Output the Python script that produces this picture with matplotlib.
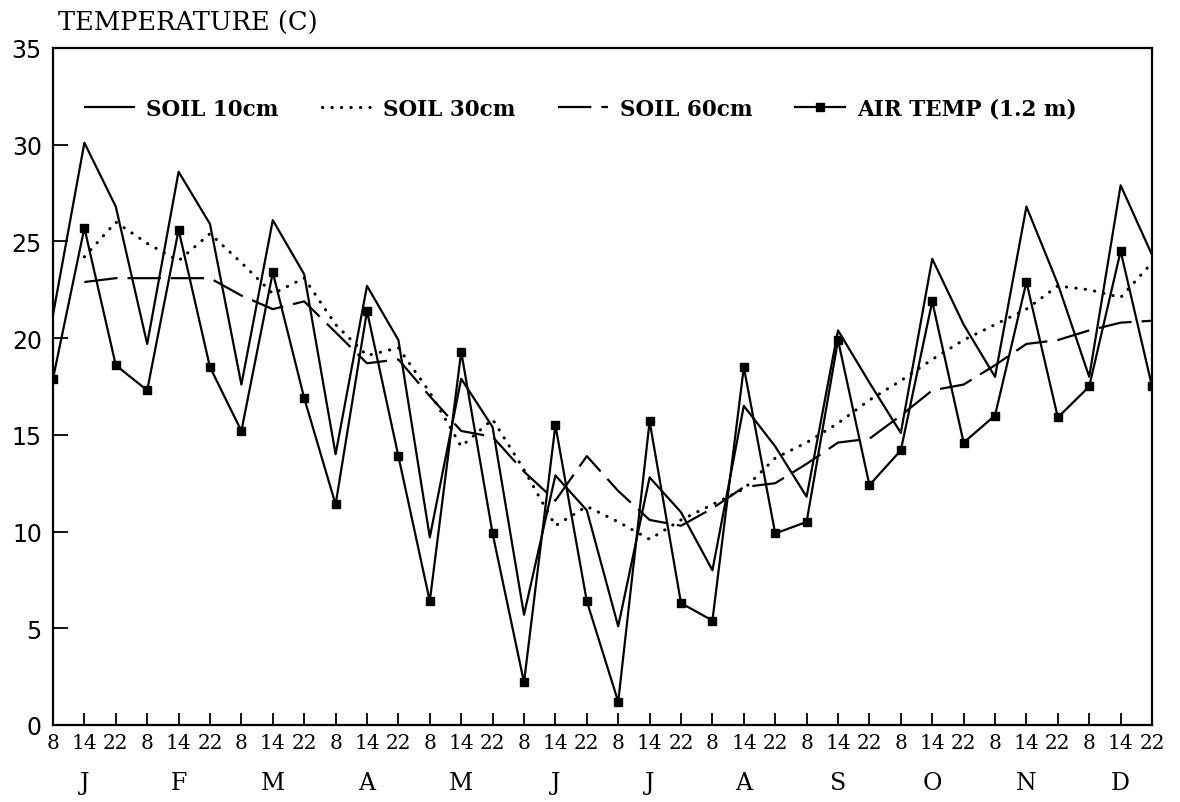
import numpy as np
import matplotlib
matplotlib.use('Agg')
import matplotlib.pyplot as plt

# 36 readings: 3 times of day (8, 14, 22 h) for each month
hours = ['8', '14', '22'] * 12
months = ['J', 'F', 'M', 'A', 'M', 'J', 'J', 'A', 'S', 'O', 'N', 'D']

soil_10 = [21.2, 30.1, 26.8, 19.7, 28.6, 25.9, 17.6, 26.1, 23.3, 14.0, 22.7, 19.9,
           9.7, 17.9, 15.4, 5.7, 12.9, 11.1, 5.1, 12.8, 11.0, 8.0, 16.5, 14.4,
           11.8, 20.4, 17.7, 15.1, 24.1, 20.7, 18.0, 26.8, 22.8, 18.0, 27.9, 24.3]
soil_30 = [np.nan, 24.2, 26.0, 24.9, 24.0, 25.4, 23.9, 22.3, 23.1, 20.7, 19.1, 19.5,
           17.2, 14.4, 15.8, 13.2, 10.3, 11.3, 10.5, 9.6, 10.6, 11.4, 12.2, 13.8,
           14.6, 15.6, 16.8, 17.8, 18.9, 19.9, 20.7, 21.5, 22.7, 22.5, 22.1, 23.9]
soil_60 = [np.nan, 22.9, 23.1, 23.1, 23.1, 23.1, 22.2, 21.5, 21.9, 20.3, 18.7, 18.9,
           17.0, 15.2, 14.9, 13.1, 11.6, 13.9, 12.1, 10.6, 10.3, 11.2, 12.3, 12.5,
           13.5, 14.6, 14.8, 16.0, 17.3, 17.6, 18.6, 19.7, 19.9, 20.4, 20.8, 20.9]
air_temp = [17.9, 25.7, 18.6, 17.3, 25.6, 18.5, 15.2, 23.4, 16.9, 11.4, 21.4, 13.9,
            6.4, 19.3, 9.9, 2.2, 15.5, 6.4, 1.2, 15.7, 6.3, 5.4, 18.5, 9.9,
            10.5, 19.9, 12.4, 14.2, 21.9, 14.6, 16.0, 22.9, 15.9, 17.5, 24.5, 17.5]

x = np.arange(len(hours))

fig = plt.figure(figsize=(11.8, 8.03), dpi=100)
ax = fig.add_axes([0.0449, 0.0959, 0.9314, 0.8431])

ax.plot(x, soil_10, color='black', lw=1.6, label='SOIL 10cm')
ax.plot(x, soil_30, color='black', lw=2.2, linestyle=(0, (0.1, 3.0)),
        dash_capstyle='round', label='SOIL 30cm')
ax.plot(x, soil_60, color='black', lw=1.6, linestyle=(0, (15, 4.5)),
        label='SOIL 60cm')
ax.plot(x, air_temp, color='black', lw=1.6, marker='s', markersize=6,
        label='AIR TEMP (1.2 m)')

ax.set_xlim(0, 35)
ax.set_ylim(0, 35)

for s in ax.spines.values():
    s.set_linewidth(1.6)

ax.set_yticks(np.arange(0, 36, 5))
ax.tick_params(axis='y', direction='in', length=11, width=1.3, pad=8,
               labelsize=17)
for lab in ax.get_yticklabels():
    lab.set_fontfamily('DejaVu Sans')

ax.set_xticks(x)
ax.set_xticklabels(hours, fontfamily='DejaVu Serif', fontsize=14.5)
ax.tick_params(axis='x', direction='in', length=9, width=1.3, pad=6)

# month letters under the 14 h tick of each month
sec = ax.secondary_xaxis('bottom')
sec.set_xticks(x[1::3])
sec.set_xticklabels(months, fontfamily='DejaVu Serif', fontsize=17)
sec.tick_params(axis='x', length=0, pad=33)
sec.spines['bottom'].set_visible(False)

leg = ax.legend(loc='center left', bbox_to_anchor=(0.029, 0.91), ncol=4,
                frameon=False, borderpad=0, borderaxespad=0, handlelength=2.3,
                handletextpad=0.55, columnspacing=2.0, numpoints=1,
                prop={'family': 'DejaVu Serif', 'weight': 'bold', 'size': 15.5})

fig.text(58 / 1180, 1 - 23 / 803, 'TEMPERATURE (C)', fontfamily='DejaVu Serif',
         fontsize=18.5, ha='left', va='center')

fig.savefig('out.png', dpi=100)
